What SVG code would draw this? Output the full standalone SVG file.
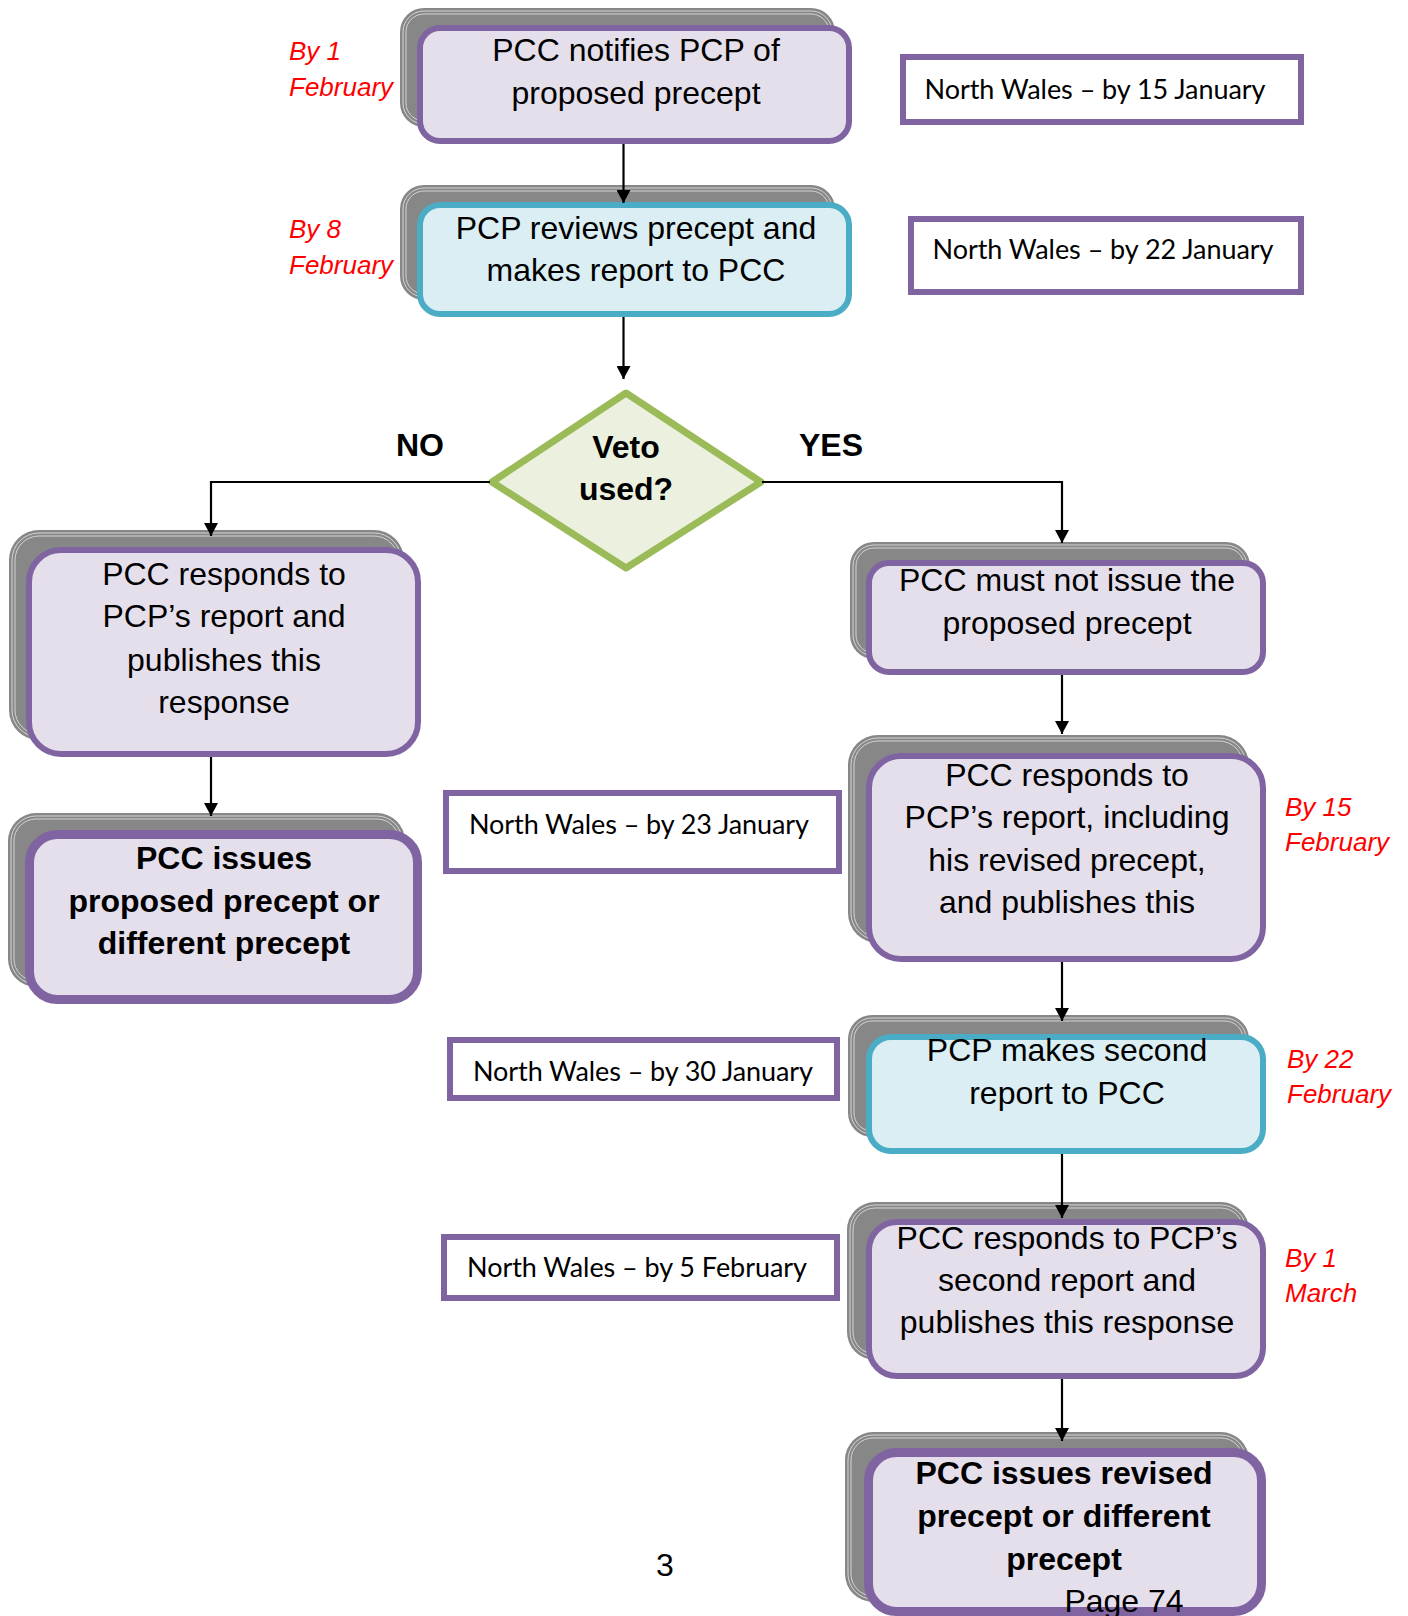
<svg xmlns="http://www.w3.org/2000/svg" width="1408" height="1616" viewBox="0 0 1408 1616">
<defs>
<style>
.sh{fill:#878787;}
.shl{fill:none;stroke:#d4d4d4;stroke-width:1;}
.pu{fill:#E5DFEC;stroke:#8064A2;stroke-width:6;}
.pub{fill:#E5DFEC;stroke:#8064A2;stroke-width:9;}
.te{fill:#DAEEF3;stroke:#4BACC6;stroke-width:6;}
.nw{fill:#FFFFFF;stroke:#8064A2;stroke-width:6;}
.t{font-family:"Liberation Sans",Arial,sans-serif;font-size:32px;fill:#000;text-anchor:middle;}
.tb{font-family:"Liberation Sans",Arial,sans-serif;font-size:32px;font-weight:bold;fill:#000;text-anchor:middle;}
.dl{font-family:"Liberation Sans",Arial,sans-serif;font-size:32px;font-weight:bold;fill:#000;text-anchor:middle;}
.r{font-family:"Liberation Sans",Arial,sans-serif;font-size:26px;font-style:italic;fill:#FF0000;}
.nt{font-family:Lato,"Open Sans",sans-serif;font-size:27px;fill:#000;text-anchor:middle;}
.c{fill:none;stroke:#000;stroke-width:2.2;}
</style>
<marker id="ah" markerUnits="userSpaceOnUse" markerWidth="14" markerHeight="14" refX="13" refY="7" orient="auto">
<path d="M0,0 L13,7 L0,14 z" fill="#000"/>
</marker>
</defs>
<rect width="1408" height="1616" fill="#FFFFFF"/>

<g id="n1">
<rect class="sh" x="400" y="8" width="435" height="119" rx="24"/>
<rect class="shl" x="403" y="11" width="429" height="113" rx="21"/>
<rect class="shl" x="406" y="14" width="423" height="107" rx="18"/>
<rect class="pu" x="420" y="28" width="429" height="113" rx="20"/>
<text class="t" x="636" y="61">PCC notifies PCP of</text>
<text class="t" x="636" y="104">proposed precept</text>
</g>

<g id="n2">
<rect class="sh" x="400" y="185" width="435" height="115" rx="24"/>
<rect class="shl" x="403" y="188" width="429" height="109" rx="21"/>
<rect class="shl" x="406" y="191" width="423" height="103" rx="18"/>
<rect class="te" x="420" y="205" width="429" height="109" rx="20"/>
<text class="t" x="636" y="239">PCP reviews precept and</text>
<text class="t" x="636" y="281">makes report to PCC</text>
</g>

<g id="decision">
<polygon points="626,393 761,482 626,568 492,482" fill="#EBF1DE" stroke="#9BBB59" stroke-width="7" stroke-linejoin="round"/>
<text class="dl" x="626" y="458">Veto</text>
<text class="dl" x="626" y="500">used?</text>
</g>
<text class="dl" x="420" y="456">NO</text>
<text class="dl" x="831" y="456">YES</text>

<g id="nA">
<rect class="sh" x="9" y="530" width="395" height="210" rx="30"/>
<rect class="shl" x="12" y="533" width="389" height="204" rx="27"/>
<rect class="shl" x="15" y="536" width="383" height="198" rx="24"/>
<rect class="pu" x="29" y="550" width="389" height="204" rx="32"/>
<text class="t" x="224" y="585">PCC responds to</text>
<text class="t" x="224" y="627">PCP’s report and</text>
<text class="t" x="224" y="671">publishes this</text>
<text class="t" x="224" y="713">response</text>
</g>

<g id="nB">
<rect class="sh" x="8" y="813" width="397" height="174" rx="28"/>
<rect class="shl" x="11" y="816" width="391" height="168" rx="25"/>
<rect class="shl" x="14" y="819" width="385" height="162" rx="22"/>
<rect class="pub" x="29.5" y="834.5" width="388" height="165" rx="28"/>
<text class="tb" x="224" y="869">PCC issues</text>
<text class="tb" x="224" y="912">proposed precept or</text>
<text class="tb" x="224" y="954">different precept</text>
</g>

<g id="nC">
<rect class="sh" x="850" y="542" width="400" height="117" rx="24"/>
<rect class="shl" x="853" y="545" width="394" height="111" rx="21"/>
<rect class="shl" x="856" y="548" width="388" height="105" rx="18"/>
<rect class="pu" x="869" y="563" width="394" height="109" rx="20"/>
<text class="t" x="1067" y="591">PCC must not issue the</text>
<text class="t" x="1067" y="634">proposed precept</text>
</g>

<g id="nD">
<rect class="sh" x="848" y="735" width="401" height="208" rx="30"/>
<rect class="shl" x="851" y="738" width="395" height="202" rx="27"/>
<rect class="shl" x="854" y="741" width="389" height="196" rx="24"/>
<rect class="pu" x="869" y="756" width="394" height="203" rx="32"/>
<text class="t" x="1067" y="786">PCC responds to</text>
<text class="t" x="1067" y="828">PCP’s report, including</text>
<text class="t" x="1067" y="871">his revised precept,</text>
<text class="t" x="1067" y="913">and publishes this</text>
</g>

<g id="nE">
<rect class="sh" x="848" y="1015" width="401" height="122" rx="24"/>
<rect class="shl" x="851" y="1018" width="395" height="116" rx="21"/>
<rect class="shl" x="854" y="1021" width="389" height="110" rx="18"/>
<rect class="te" x="869" y="1037" width="394" height="114" rx="22"/>
<text class="t" x="1067" y="1061">PCP makes second</text>
<text class="t" x="1067" y="1104">report to PCC</text>
</g>

<g id="nF">
<rect class="sh" x="847" y="1202" width="402" height="158" rx="28"/>
<rect class="shl" x="850" y="1205" width="396" height="152" rx="25"/>
<rect class="shl" x="853" y="1208" width="390" height="146" rx="22"/>
<rect class="pu" x="869" y="1222" width="394" height="154" rx="28"/>
<text class="t" x="1067" y="1249">PCC responds to PCP’s</text>
<text class="t" x="1067" y="1291">second report and</text>
<text class="t" x="1067" y="1333">publishes this response</text>
</g>

<g id="nG">
<rect class="sh" x="845" y="1432" width="404" height="170" rx="28"/>
<rect class="shl" x="848" y="1435" width="398" height="164" rx="25"/>
<rect class="shl" x="851" y="1438" width="392" height="158" rx="22"/>
<rect class="pub" x="868.5" y="1452.5" width="393" height="159" rx="28"/>
<text class="tb" x="1064" y="1484">PCC issues revised</text>
<text class="tb" x="1064" y="1527">precept or different</text>
<text class="tb" x="1064" y="1570">precept</text>
<text class="t" x="1124" y="1612">Page 74</text>
</g>

<g id="nw15"><rect class="nw" x="903" y="57" width="398" height="65"/><text class="nt" x="1095" y="99" textLength="341">North Wales – by 15 January</text></g>
<g id="nw22"><rect class="nw" x="911" y="219" width="390" height="73"/><text class="nt" x="1103" y="259" textLength="341">North Wales – by 22 January</text></g>
<g id="nw23"><rect class="nw" x="446" y="793" width="393" height="78"/><text class="nt" x="639" y="834" textLength="340">North Wales – by 23 January</text></g>
<g id="nw30"><rect class="nw" x="450" y="1040" width="387" height="58"/><text class="nt" x="643" y="1081" textLength="340">North Wales – by 30 January</text></g>
<g id="nw5"><rect class="nw" x="444" y="1237" width="393" height="61"/><text class="nt" x="637" y="1277" textLength="340">North Wales – by 5 February</text></g>

<g id="dates">
<text class="r" x="289" y="60">By 1</text>
<text class="r" x="289" y="96">February</text>
<text class="r" x="289" y="238">By 8</text>
<text class="r" x="289" y="274">February</text>
<text class="r" x="1285" y="816">By 15</text>
<text class="r" x="1285" y="851">February</text>
<text class="r" x="1287" y="1068">By 22</text>
<text class="r" x="1287" y="1103">February</text>
<text class="r" x="1285" y="1267">By 1</text>
<text class="r" x="1285" y="1302">March</text>
</g>
<text class="t" x="665" y="1576">3</text>

<g id="connectors">
<line class="c" x1="623.5" y1="144" x2="623.5" y2="203" marker-end="url(#ah)"/>
<line class="c" x1="623.5" y1="317" x2="623.5" y2="379" marker-end="url(#ah)"/>
<polyline class="c" points="490,482 211,482 211,536" marker-end="url(#ah)"/>
<polyline class="c" points="762,482 1062,482 1062,543" marker-end="url(#ah)"/>
<line class="c" x1="211" y1="757" x2="211" y2="816" marker-end="url(#ah)"/>
<line class="c" x1="1062" y1="675" x2="1062" y2="734" marker-end="url(#ah)"/>
<line class="c" x1="1062" y1="962" x2="1062" y2="1021" marker-end="url(#ah)"/>
<line class="c" x1="1062" y1="1154" x2="1062" y2="1218" marker-end="url(#ah)"/>
<line class="c" x1="1062" y1="1379" x2="1062" y2="1441" marker-end="url(#ah)"/>
</g>
</svg>
